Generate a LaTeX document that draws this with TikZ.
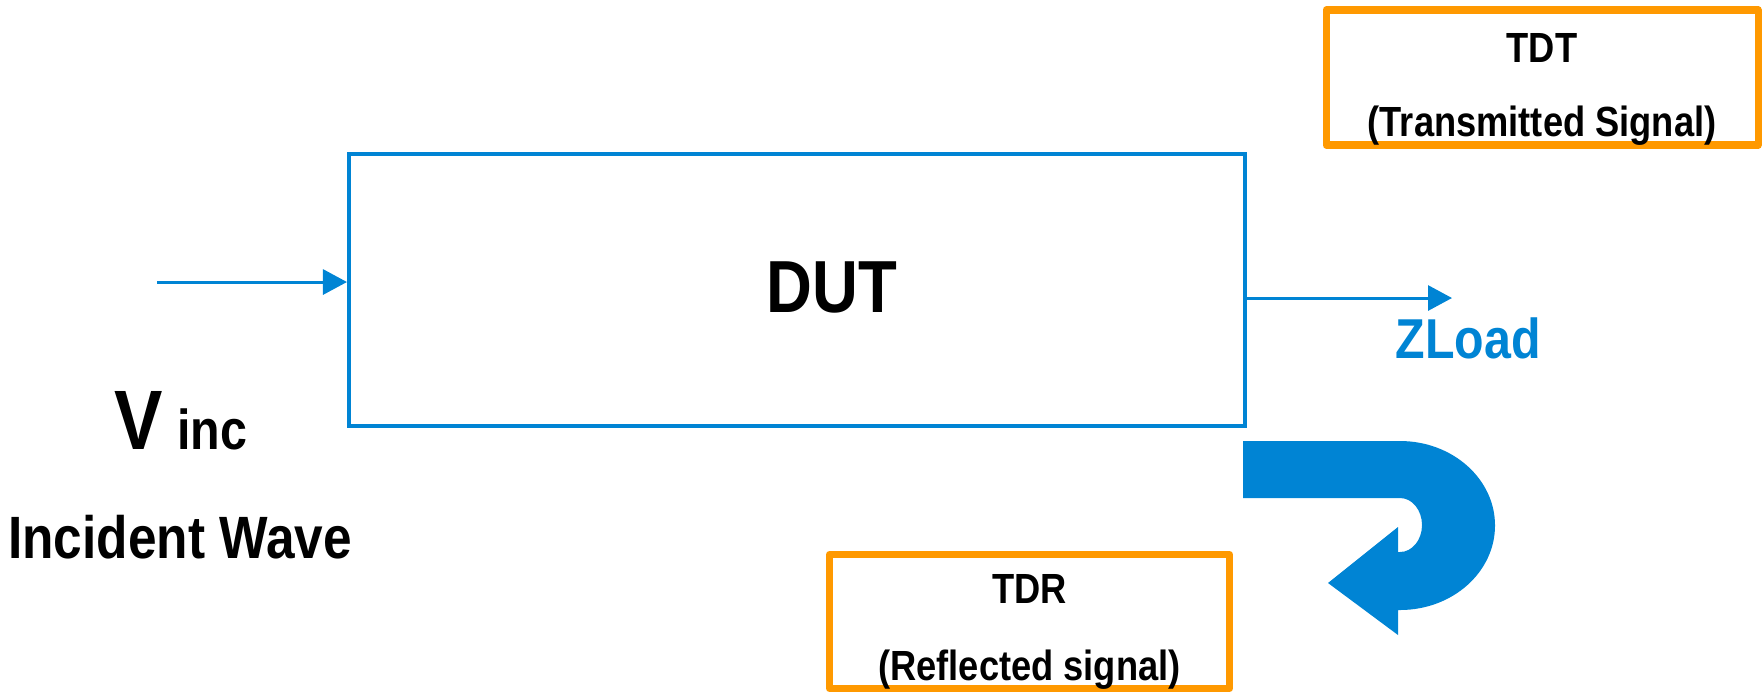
\documentclass[tikz,border=0pt]{standalone}
\usepackage{fontspec}
\setmainfont{Liberation Sans}[FakeStretch=0.86]
\usepackage{tikz}
\usetikzlibrary{arrows.meta}
\usetikzlibrary{positioning}

\definecolor{sigblue}{RGB}{0,132,212}
\definecolor{boxorange}{RGB}{255,153,0}

\begin{document}
\begin{tikzpicture}[
  > = {Triangle[length=2.4mm,width=2.5mm]},
  every node/.style = {font=\bfseries},
  sig/.style = {->, draw=sigblue, fill=sigblue, line width=0.85pt},
  dutbox/.style = {draw=sigblue, line width=1.15pt, minimum width=8.96cm, minimum height=2.72cm, inner sep=0pt},
  outbox/.style = {draw=boxorange, line width=2pt, line join=round, inner sep=0pt},
  boxtext/.style = {anchor=base, font=\bfseries\fontsize{12}{14}\selectfont},
  bigtext/.style = {anchor=base, font=\bfseries\fontsize{16}{19}\selectfont}
  ]
	\useasboundingbox (0,0) rectangle (17.62,-6.92);

	% device under test
	\node[dutbox] (dut) at (7.97,-2.90) {};
	\node[anchor=base, font=\bfseries\fontsize{21}{25}\selectfont] (dutname) at (8.32,-3.12) {DUT};

	\coordinate (vin) at (1.57,-2.82);
	\coordinate (zl) at (14.52,-2.98);

	\draw[sig] (vin) -- (vin -| dut.west);
	\draw[sig] (zl -| dut.east) -- (zl);

	\node[bigtext, text=sigblue] (zload) at (14.68,-3.58) {ZLoad};

	\node[anchor=base] (vinc) at (1.81,-4.49) {\fontsize{24}{28}\selectfont V\hspace{4pt}\fontsize{16}{19}\selectfont inc};
	\node[bigtext, font=\bfseries\fontsize{17}{20}\selectfont] (incwave) at (1.80,-5.58) {Incident Wave};

	% reflected wave, bent back
	\fill[sigblue] (12.43,-4.41) -- (14.00,-4.41)
		arc[start angle=90, end angle=-90, x radius=0.95, y radius=0.845]
		-- (13.98,-6.10) -- (13.98,-6.35) -- (13.28,-5.83) -- (13.98,-5.27) -- (13.98,-5.52) -- (14.00,-5.52)
		arc[start angle=-90, end angle=90, x radius=0.22, y radius=0.27]
		-- (12.43,-4.98) -- cycle;

	% measurement boxes
	\node[outbox, minimum width=4.32cm, minimum height=1.35cm] (tdt) at (15.42,-0.775) {};
	\node[boxtext] (tdtname) at (15.42,-0.62) {TDT};
	\node[boxtext] (tdtsub) at (15.42,-1.36) {(Transmitted Signal)};

	\node[outbox, minimum width=4.00cm, minimum height=1.34cm] (tdr) at (10.295,-6.215) {};
	\node[boxtext] (tdrname) at (10.295,-6.03) {TDR};
	\node[boxtext] (tdrsub) at (10.295,-6.80) {(Reflected signal)};
\end{tikzpicture}
\end{document}
